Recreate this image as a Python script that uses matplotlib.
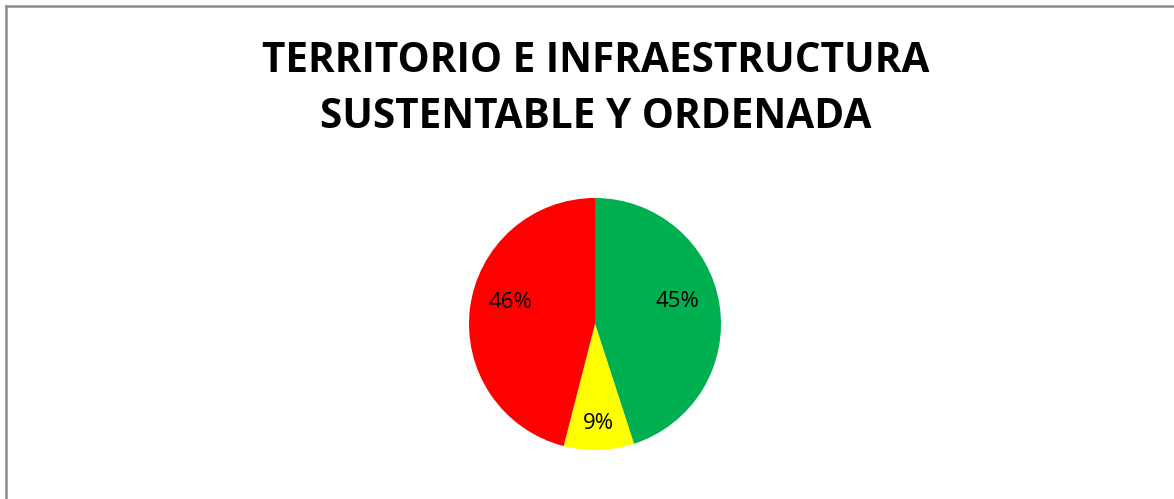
import matplotlib
matplotlib.use('Agg')
import matplotlib.pyplot as plt
from matplotlib.lines import Line2D

# datos
categorias = ['Verde', 'Amarillo', 'Rojo']
valores = [45, 9, 46]
colores = ['#00b050', '#ffff00', '#ff0000']
etiquetas = ['45%', '9%', '46%']
# posiciones de las etiquetas (unidades del radio)
pos_etiquetas = [(0.65, 0.18), (0.03, -0.79), (-0.67, 0.17)]

W, H = 1174, 499
fig = plt.figure(figsize=(W / 100, H / 100), dpi=100)
fig.patch.set_facecolor('white')

# borde gris (solo izquierda y arriba visibles)
fig.add_artist(Line2D([6 / W, 6 / W], [0, 1 - 6 / H], transform=fig.transFigure,
                      color='#8c8c8c', lw=1.8))
fig.add_artist(Line2D([6 / W, 1], [1 - 6 / H, 1 - 6 / H], transform=fig.transFigure,
                      color='#8c8c8c', lw=1.8))

fig.text(596 / W, 1 - 61 / H, 'TERRITORIO E INFRAESTRUCTURA', ha='center', va='center',
         fontsize=29.2, fontweight='bold', family='Open Sans')
fig.text(596 / W, 1 - 118 / H, 'SUSTENTABLE Y ORDENADA', ha='center', va='center',
         fontsize=29.2, fontweight='bold', family='Open Sans')

cx, cy, r = 595, 324, 126
ax = fig.add_axes([(cx - r) / W, (H - cy - r) / H, 2 * r / W, 2 * r / H])
ax.pie(valores, colors=colores, startangle=90, counterclock=False, radius=1,
       wedgeprops={'linewidth': 0})
for (x, y), t in zip(pos_etiquetas, etiquetas):
    ax.text(x, y, t, ha='center', va='center', fontsize=16, family='Open Sans')
ax.set_xlim(-1, 1)
ax.set_ylim(-1, 1)
ax.set_aspect('equal')
ax.axis('off')

fig.savefig('out.png', dpi=100)
